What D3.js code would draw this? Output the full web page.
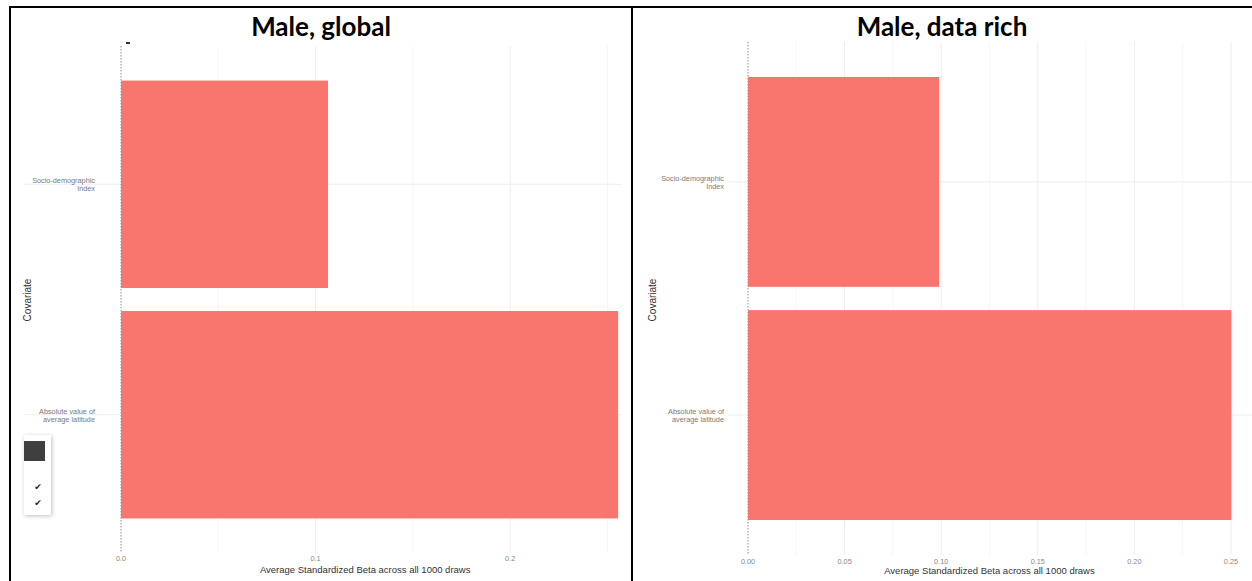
<!DOCTYPE html>
<html><head><meta charset="utf-8">
<script src="https://cdn.jsdelivr.net/npm/d3@7"></script>
<style>
html,body{margin:0;padding:0;background:#fff;}
svg{display:block;}
</style></head>
<body>
<svg id="chart" width="1252" height="581"></svg>
<script>
// ---- data ----
const panelTitles = ["Male, global", "Male, data rich"];
const categories = ["Socio-demographic Index", "Absolute value of average latitude"];
const categoryLines = [["Socio-demographic", "Index"], ["Absolute value of", "average latitude"]];
const globalValues = [0.1064, 0.2555];
const dataRichValues = [0.0989, 0.2502];
const globalMajorTicks = [0, 0.1, 0.2];
const globalMinorTicks = [0.05, 0.15, 0.25];
const globalTickLabels = ["0.0", "0.1", "0.2"];
const dataRichMajorTicks = [0, 0.05, 0.10, 0.15, 0.20, 0.25];
const dataRichMinorTicks = [0.025, 0.075, 0.125, 0.175, 0.225];
const dataRichTickLabels = ["0.00", "0.05", "0.10", "0.15", "0.20", "0.25"];
const xTitle = "Average Standardized Beta across all 1000 draws";
const yTitle = "Covariate";

const svg = d3.select("#chart");
const BAR = "#F8766D";

const panels = [
  {title: panelTitles[0], values: globalValues, major: globalMajorTicks, minor: globalMinorTicks, labels: globalTickLabels,
   cell: [10, 632], x0: 121, xDomMax: 0.2575, xRangeMax: 622, y: [46, 553], labelX: 95, yTitleX: 31, tickY: 561, titleY: 573, hLineFrom: 25},
  {title: panelTitles[1], values: dataRichValues, major: dataRichMajorTicks, minor: dataRichMinorTicks, labels: dataRichTickLabels,
   cell: [632, 1252], x0: 748, xDomMax: 0.2609, xRangeMax: 1252, y: [42, 555], labelX: 724, yTitleX: 656, tickY: 564, titleY: 574, hLineFrom: 728}
];

panels.forEach(p => {
  const x = d3.scaleLinear().domain([0, p.xDomMax]).range([p.x0, p.xRangeMax]);
  const y = d3.scaleBand().domain(categories).range(p.y).paddingInner(0.1).paddingOuter(0.15);
  const g = svg.append("g");

  // title
  g.append("text").attr("x", (p.cell[0] + p.cell[1]) / 2).attr("y", 36)
    .attr("text-anchor", "middle").attr("font-family", "Lato, 'Liberation Sans', sans-serif")
    .attr("font-weight", 700).attr("font-size", 26).attr("fill", "#000").text(p.title);

  // minor vertical grid
  g.selectAll(".minor").data(p.minor).enter().append("line")
    .attr("x1", d => x(d)).attr("x2", d => x(d)).attr("y1", p.y[0]).attr("y2", p.y[1])
    .attr("stroke", "#f6f6f6").attr("stroke-width", 1);
  // major vertical grid
  g.selectAll(".major").data(p.major.filter(d => d > 0)).enter().append("line")
    .attr("x1", d => x(d)).attr("x2", d => x(d)).attr("y1", p.y[0]).attr("y2", p.y[1])
    .attr("stroke", "#eeeeee").attr("stroke-width", 1);
  // horizontal grid at categories (extends through label area)
  g.selectAll(".hgrid").data(categories).enter().append("line")
    .attr("x1", p.hLineFrom).attr("x2", p.xRangeMax)
    .attr("y1", d => y(d) + y.bandwidth() / 2).attr("y2", d => y(d) + y.bandwidth() / 2)
    .attr("stroke", "#ededed").attr("stroke-width", 1);

  // zero dotted line
  g.append("line").attr("x1", x(0)).attr("x2", x(0)).attr("y1", p.y[0]).attr("y2", p.y[1])
    .attr("stroke", "#aaaaaa").attr("stroke-width", 1.3).attr("stroke-dasharray", "1.5,1.5");

  // bars
  g.selectAll(".bar").data(p.values).enter().append("rect")
    .attr("x", x(0)).attr("y", (d, i) => y(categories[i]))
    .attr("width", d => x(d) - x(0)).attr("height", y.bandwidth())
    .attr("fill", BAR);

  // category labels
  categories.forEach((c, i) => {
    const cy = y(c) + y.bandwidth() / 2;
    const t = g.append("text").attr("text-anchor", "end").attr("font-family", "'Liberation Sans', Arial, sans-serif")
      .attr("font-size", 7.3).attr("fill", "#7a7a7a");
    categoryLines[i].forEach((ln, k) => {
      t.append("tspan").attr("x", p.labelX).attr("y", cy - 1 + k * 8).text(ln);
    });
  });

  // x tick labels
  g.selectAll(".tick").data(p.major).enter().append("text")
    .attr("x", d => x(d)).attr("y", p.tickY).attr("text-anchor", "middle")
    .attr("font-family", "'Liberation Sans', Arial, sans-serif").attr("font-size", 7.3).attr("fill", "#8a8a8a")
    .text((d, i) => p.labels[i]);

  // axis titles
  g.append("text").attr("x", (x(0) + x(0.25)) / 2 + (p === panels[0] ? 1 : 0)).attr("y", p.titleY).attr("text-anchor", "middle")
    .attr("font-family", "'Liberation Sans', Arial, sans-serif").attr("font-size", 9.5).attr("fill", "#333")
    .text(xTitle);
  g.append("text").attr("transform", `translate(${p.yTitleX},300) rotate(-90)`).attr("text-anchor", "middle")
    .attr("font-family", "'Liberation Sans', Arial, sans-serif").attr("font-size", 10).attr("fill", "#333")
    .text(yTitle);
});

// small artifact dash near top of left panel
svg.append("rect").attr("x", 126).attr("y", 42).attr("width", 4).attr("height", 2).attr("fill", "#333");

// popup menu overlay in left panel
const defs = svg.append("defs");
const f = defs.append("filter").attr("id", "sh").attr("x", "-30%").attr("y", "-30%").attr("width", "160%").attr("height", "160%");
f.append("feDropShadow").attr("dx", 1).attr("dy", 1).attr("stdDeviation", 2).attr("flood-color", "#000").attr("flood-opacity", 0.25);
const menu = svg.append("g");
menu.append("rect").attr("x", 24).attr("y", 435).attr("width", 27).attr("height", 80).attr("fill", "#fff").attr("filter", "url(#sh)");
menu.append("rect").attr("x", 24).attr("y", 441).attr("width", 21).attr("height", 20).attr("fill", "#3f3f3f");
[487, 503].forEach(yy => {
  menu.append("text").attr("x", 38).attr("y", yy + 3).attr("text-anchor", "middle")
    .attr("font-family", "'DejaVu Sans', sans-serif").attr("font-size", 9).attr("fill", "#222").text("\u2714");
});

// cell borders
const border = svg.append("g").attr("stroke", "#000").attr("stroke-width", 2);
border.append("line").attr("x1", 9).attr("x2", 1252).attr("y1", 7).attr("y2", 7);
border.append("line").attr("x1", 10).attr("x2", 10).attr("y1", 6).attr("y2", 581);
border.append("line").attr("x1", 632).attr("x2", 632).attr("y1", 6).attr("y2", 581);
</script>
</body></html>
